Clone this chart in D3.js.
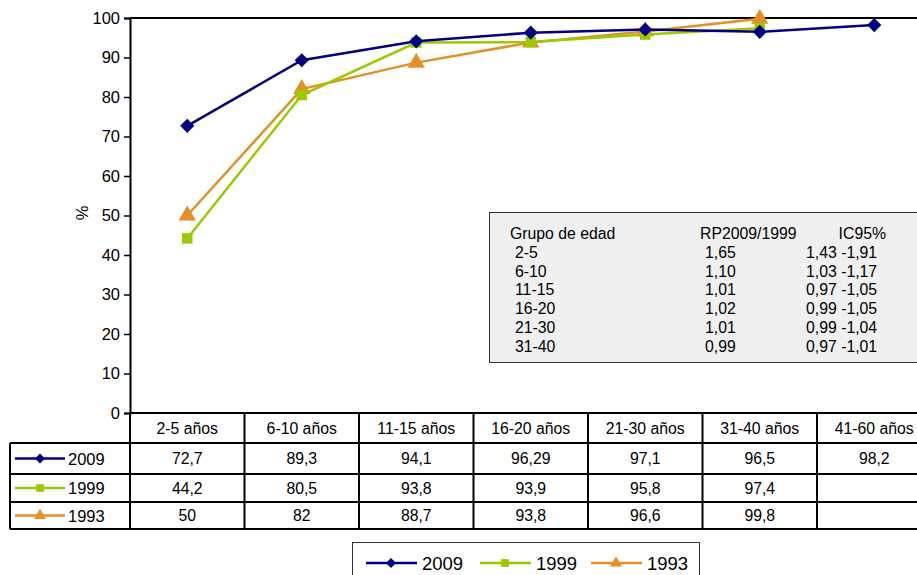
<!DOCTYPE html>
<html><head><meta charset="utf-8">
<script src="https://cdn.jsdelivr.net/npm/d3@7"></script>
<style>body{margin:0;background:#fff;overflow:hidden}svg{display:block;font-family:"Liberation Sans",Arial,sans-serif}</style>
</head><body><svg id="c" width="917" height="575"></svg>
<script>
const categories = ["2-5 años","6-10 años","11-15 años","16-20 años","21-30 años","31-40 años","41-60 años"];
const seriesNames = ["2009","1999","1993"];
const values2009 = [72.7,89.3,94.1,96.29,97.1,96.5,98.2];
const values1999 = [44.2,80.5,93.8,93.9,95.8,97.4,null];
const values1993 = [50,82,88.7,93.8,96.6,99.8,null];
const tableText2009 = ["72,7","89,3","94,1","96,29","97,1","96,5","98,2"];
const tableText1999 = ["44,2","80,5","93,8","93,9","95,8","97,4",""];
const tableText1993 = ["50","82","88,7","93,8","96,6","99,8",""];
const yTicks = [0,10,20,30,40,50,60,70,80,90,100];
const infoHeader = ["Grupo de edad","RP2009/1999","IC95%"];
const infoGroups = ["2-5","6-10","11-15","16-20","21-30","31-40"];
const infoRP = ["1,65","1,10","1,01","1,02","1,01","0,99"];
const infoIC = ["1,43 -1,91","1,03 -1,17","0,97 -1,05","0,99 -1,05","0,99 -1,04","0,97 -1,01"];

(function(){
const colors = ["#000080","#99cc00","#e39027"];
const symbols = [d3.symbolSquare, d3.symbolSquare, d3.symbolTriangle];
const rot = [45, 0, 0];
const symSizes = [100, 110, 130];
const series = [values2009, values1999, values1993];
const tableTexts = [tableText2009, tableText1999, tableText1993];

const svg = d3.select("#c");
const pLeft = 130, pTop = 18, pBottom = 413, bandW = 114.5;
const x = d3.scaleBand().domain(categories).range([pLeft, pLeft + bandW*categories.length]);
const y = d3.scaleLinear().domain([0,100]).range([pBottom, pTop]);
const font = 15.8;

// info box
const ib = svg.append("g");
ib.append("rect").attr("x",489.5).attr("y",212.5).attr("width",440).attr("height",150)
  .attr("fill","#f0f0f0").attr("stroke","#333").attr("stroke-width",1);
const rowY = i => 239 + i*18.8;
ib.append("text").attr("x",510).attr("y",rowY(0)).text(infoHeader[0]);
ib.append("text").attr("x",700).attr("y",rowY(0)).text(infoHeader[1]);
ib.append("text").attr("x",886).attr("y",rowY(0)).attr("text-anchor","end").text(infoHeader[2]);
infoGroups.forEach((g,i)=>{
  ib.append("text").attr("x",515).attr("y",rowY(i+1)).text(g);
  ib.append("text").attr("x",705).attr("y",rowY(i+1)).text(infoRP[i]);
  ib.append("text").attr("x",806).attr("y",rowY(i+1)).text(infoIC[i]);
});
ib.selectAll("text").attr("font-size",font).attr("fill","#000");

// axes
const yAxis = d3.axisLeft(y).tickValues(yTicks).tickSize(6).tickPadding(4);
const ga = svg.append("g").attr("transform",`translate(${pLeft},0)`).call(yAxis);
ga.select(".domain").attr("stroke","#000").attr("stroke-width",2);
ga.selectAll(".tick line").attr("stroke","#000").attr("stroke-width",1.5);
ga.selectAll("text").attr("font-size",16.5).attr("font-family","Liberation Sans, Arial, sans-serif").attr("fill","#000");
svg.append("line").attr("x1",pLeft).attr("x2",917).attr("y1",pTop).attr("y2",pTop).attr("stroke","#000").attr("stroke-width",2);
svg.append("text").attr("transform",`translate(88,213) rotate(-90)`).attr("text-anchor","middle").attr("font-size",16.5).text("%");

// lines
const line = d3.line().defined(d=>d!=null).x((d,i)=>x(categories[i])+x.bandwidth()/2).y(d=>y(d));
[2,1,0].forEach(s=>{
  svg.append("path").attr("d",line(series[s])).attr("fill","none").attr("stroke",colors[s]).attr("stroke-width",2.5);
});
[2,1,0].forEach(s=>{
  series[s].forEach((v,i)=>{
    if(v==null) return;
    svg.append("path").attr("d",d3.symbol(symbols[s],symSizes[s])())
      .attr("transform",`translate(${x(categories[i])+x.bandwidth()/2},${y(v)}) rotate(${rot[s]})`).attr("fill",colors[s]);
  });
});

// data table
const tb = svg.append("g");
const rows = [413,443,474,502,529];
const xEnd = pLeft + bandW*categories.length;
tb.append("line").attr("x1",pLeft).attr("x2",xEnd).attr("y1",rows[0]).attr("y2",rows[0]).attr("stroke","#000").attr("stroke-width",2);
for(let r=1;r<rows.length;r++) tb.append("line").attr("x1",10).attr("x2",xEnd).attr("y1",rows[r]).attr("y2",rows[r]).attr("stroke","#000").attr("stroke-width",2);
tb.append("line").attr("x1",10).attr("x2",10).attr("y1",rows[1]).attr("y2",rows[4]).attr("stroke","#000").attr("stroke-width",2);
categories.forEach((c,i)=>{
  tb.append("line").attr("x1",x(c)+bandW).attr("x2",x(c)+bandW).attr("y1",rows[0]).attr("y2",rows[4]).attr("stroke","#000").attr("stroke-width",2);
  tb.append("text").attr("x",x(c)+bandW/2).attr("y",434).attr("text-anchor","middle").attr("font-size",font).text(c);
});
tb.append("line").attr("x1",pLeft).attr("x2",pLeft).attr("y1",rows[0]).attr("y2",rows[4]).attr("stroke","#000").attr("stroke-width",2);
seriesNames.forEach((n,s)=>{
  const cy = (rows[s+1]+rows[s+2])/2;
  tb.append("line").attr("x1",15).attr("x2",65).attr("y1",cy).attr("y2",cy).attr("stroke",colors[s]).attr("stroke-width",2.5);
  tb.append("path").attr("d",d3.symbol(symbols[s],s===0?50:60)()).attr("transform",`translate(40,${cy}) rotate(${rot[s]})`).attr("fill",colors[s]);
  tb.append("text").attr("x",68).attr("y",cy+6).attr("font-size",16.5).text(n);
  tableTexts[s].forEach((t,i)=>{
    tb.append("text").attr("x",x(categories[i])+bandW/2).attr("y",cy+5.5).attr("text-anchor","middle").attr("font-size",font).text(t);
  });
});

// legend
const lg = svg.append("g");
lg.append("rect").attr("x",352.5).attr("y",542.5).attr("width",347).attr("height",40).attr("fill","#fff").attr("stroke","#333").attr("stroke-width",1);
const lx = [366,480,591];
seriesNames.forEach((n,s)=>{
  const cy = 563;
  lg.append("line").attr("x1",lx[s]).attr("x2",lx[s]+51).attr("y1",cy).attr("y2",cy).attr("stroke",colors[s]).attr("stroke-width",2.5);
  lg.append("path").attr("d",d3.symbol(symbols[s],s===0?50:60)()).attr("transform",`translate(${lx[s]+25},${cy}) rotate(${rot[s]})`).attr("fill",colors[s]);
  lg.append("text").attr("x",lx[s]+56).attr("y",cy+6.5).attr("font-size",18.5).text(n);
});
})();
</script></body></html>
